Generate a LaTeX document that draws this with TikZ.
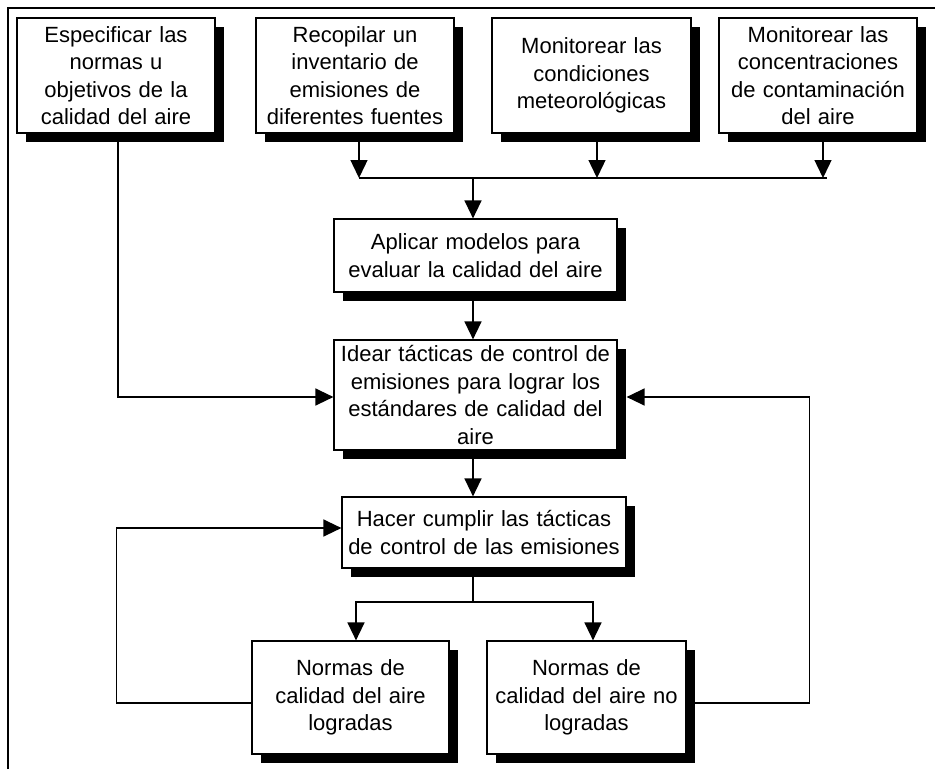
\documentclass[tikz,border=0pt]{standalone}
\usepackage{fontspec}
\setmainfont{Liberation Sans}
\usetikzlibrary{shadows,arrows.meta}
\begin{document}
\begin{tikzpicture}[x=1pt,y=-1pt,
  box/.style={draw=black, line width=1.2pt, fill=white, align=center, inner sep=0pt,
    general shadow={fill=black, shadow xshift=9pt, shadow yshift=-9pt},
    font=\fontsize{22}{27.5}\selectfont},
  conn/.style={line width=1.4pt},
  arr/.style={conn, -{Triangle[length=18pt,width=17pt]}}]
\useasboundingbox (0,0) rectangle (935,769);
\draw[line width=1.5pt] (8,769) -- (8,8) -- (935,8);

\node[box, minimum width=198pt, minimum height=115pt, text width=194pt] (b1) at (116,75.5)
  {Especificar las\\normas u\\objetivos de la\\calidad del aire};
\node[box, minimum width=198pt, minimum height=115pt, text width=194pt] (b2) at (355,75.5)
  {Recopilar un\\inventario de\\emisiones de\\diferentes fuentes};
\node[box, minimum width=199pt, minimum height=115pt, text width=195pt] (b3) at (591.5,75.5)
  {Monitorear las\\condiciones\\meteorológicas};
\node[box, minimum width=198pt, minimum height=115pt, text width=194pt] (b4) at (818,75.5)
  {Monitorear las\\concentraciones\\de contaminación\\del aire};
\node[box, minimum width=283pt, minimum height=73pt, text width=279pt] (apl) at (475.5,255.5)
  {Aplicar modelos para\\evaluar la calidad del aire};
\node[box, minimum width=283pt, minimum height=110pt, text width=279pt] (idear) at (475.5,395)
  {Idear tácticas de control de\\emisiones para lograr los\\estándares de calidad del\\aire};
\node[box, minimum width=284pt, minimum height=71pt, text width=280pt] (hacer) at (484,532.5)
  {Hacer cumplir las tácticas\\de control de las emisiones};
\node[box, minimum width=197pt, minimum height=113pt, text width=193pt] (n1) at (350.5,697.5)
  {Normas de\\calidad del aire\\logradas};
\node[box, minimum width=199pt, minimum height=113pt, text width=195pt] (n2) at (586.5,697.5)
  {Normas de\\calidad del aire no\\logradas};

\coordinate (hubL) at (359,178);
\coordinate (hubR) at (827,178);
\coordinate (hub) at (473,178);
\coordinate (t3) at (597,178);
\coordinate (t4) at (823,178);
\coordinate (br) at (473,602);

\draw[conn] (hubL) -- (hubR);
\draw[arr] (hubL |- b2.south) -- (hubL);
\draw[arr] (t3 |- b3.south) -- (t3);
\draw[arr] (t4 |- b4.south) -- (t4);
\draw[arr] (hub) -- (hub |- apl.north);
\draw[arr] (hub |- apl.south) -- (hub |- idear.north);
\draw[arr] (hub |- idear.south) -- (hub |- hacer.north);
\draw[arr] ([xshift=2pt]b1.south) |- ([yshift=-2pt]idear.west);
\draw[arr] ([yshift=-5.5pt]n2.east) -| ([xshift=192pt,yshift=-2pt]idear.east) -- ([xshift=9pt,yshift=-2pt]idear.east);
\draw[arr] ([yshift=-5.5pt]n1.west) -| ([xshift=-225pt,yshift=4.5pt]hacer.west) -- ([yshift=4.5pt]hacer.west);
\draw[conn] (hub |- hacer.south) -- (br);
\draw[arr] (br) -| ([xshift=5.5pt]n1.north);
\draw[arr] (br) -| ([xshift=6.5pt]n2.north);
\end{tikzpicture}
\end{document}
